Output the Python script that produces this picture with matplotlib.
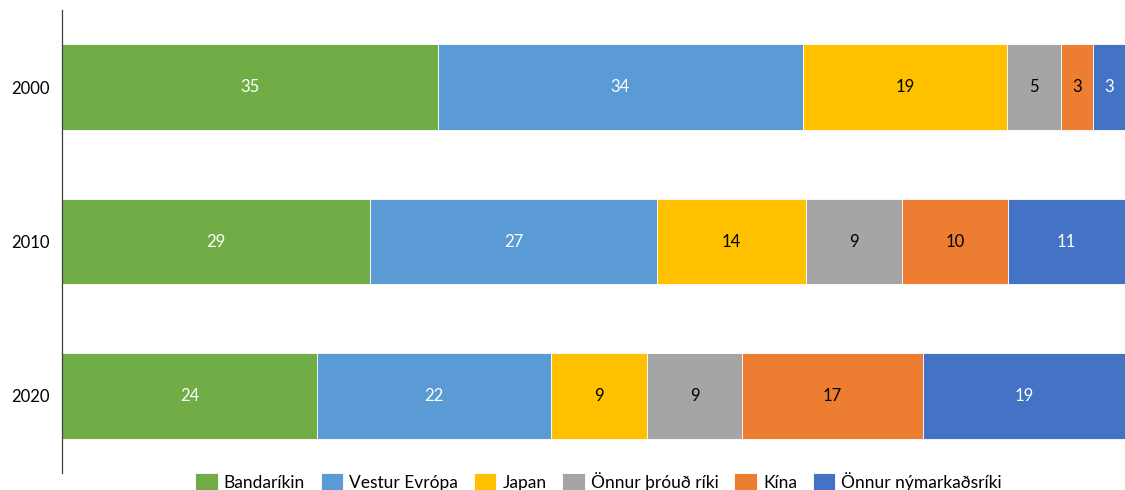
import matplotlib.pyplot as plt
import numpy as np

years = ["2000", "2010", "2020"]
regions = ["Bandaríkin", "Vestur Evrópa", "Japan", "Önnur þróuð ríki", "Kína", "Önnur nýmarkaðsríki"]
bandarikin = [35, 29, 24]
vestur_evropa = [34, 27, 22]
japan = [19, 14, 9]
onnur_throud = [5, 9, 9]
kina = [3, 10, 17]
onnur_nymarkads = [3, 11, 19]

colors = ["#70AD47", "#5B9BD5", "#FFC000", "#A5A5A5", "#ED7D31", "#4472C4"]
text_colors = ["white", "white", "black", "black", "black", "white"]

plt.rcParams['font.family'] = ['Lato', 'DejaVu Sans']

series = np.array([bandarikin, vestur_evropa, japan, onnur_throud, kina, onnur_nymarkads], dtype=float)
shares = series / series.sum(axis=0) * 100

fig = plt.figure(figsize=(11.25, 4.9), dpi=100)
ax = fig.add_axes([62 / 1125, 17 / 490, 1 - 62 / 1125, 463 / 490])

ypos = np.arange(len(years))
left = np.zeros(len(years))
for i, name in enumerate(regions):
    bars = ax.barh(ypos, shares[i], left=left, height=0.557, color=colors[i],
                   edgecolor="white", linewidth=0.6, label=name)
    for j, b in enumerate(bars):
        ax.text(left[j] + shares[i][j] / 2, ypos[j], f"{int(series[i][j])}",
                ha="center", va="center", fontsize=12, color=text_colors[i])
    left += shares[i]

ax.set_xlim(0, 100)
ax.set_ylim(2.5, -0.5)
ax.set_yticks(ypos)
ax.set_yticklabels(years, fontsize=12)
ax.tick_params(axis="y", length=0, pad=9)
ax.set_xticks([])
for s in ["top", "right", "bottom"]:
    ax.spines[s].set_visible(False)
ax.spines["left"].set_color("#404040")
ax.spines["left"].set_linewidth(0.9)

fig.legend(loc="center", bbox_to_anchor=(0.532, 0.018), ncol=6, frameon=False,
           fontsize=12.5, handlelength=1.3, handleheight=1.2, handletextpad=0.35,
           columnspacing=0.9)

fig.savefig("out.png", dpi=100)
